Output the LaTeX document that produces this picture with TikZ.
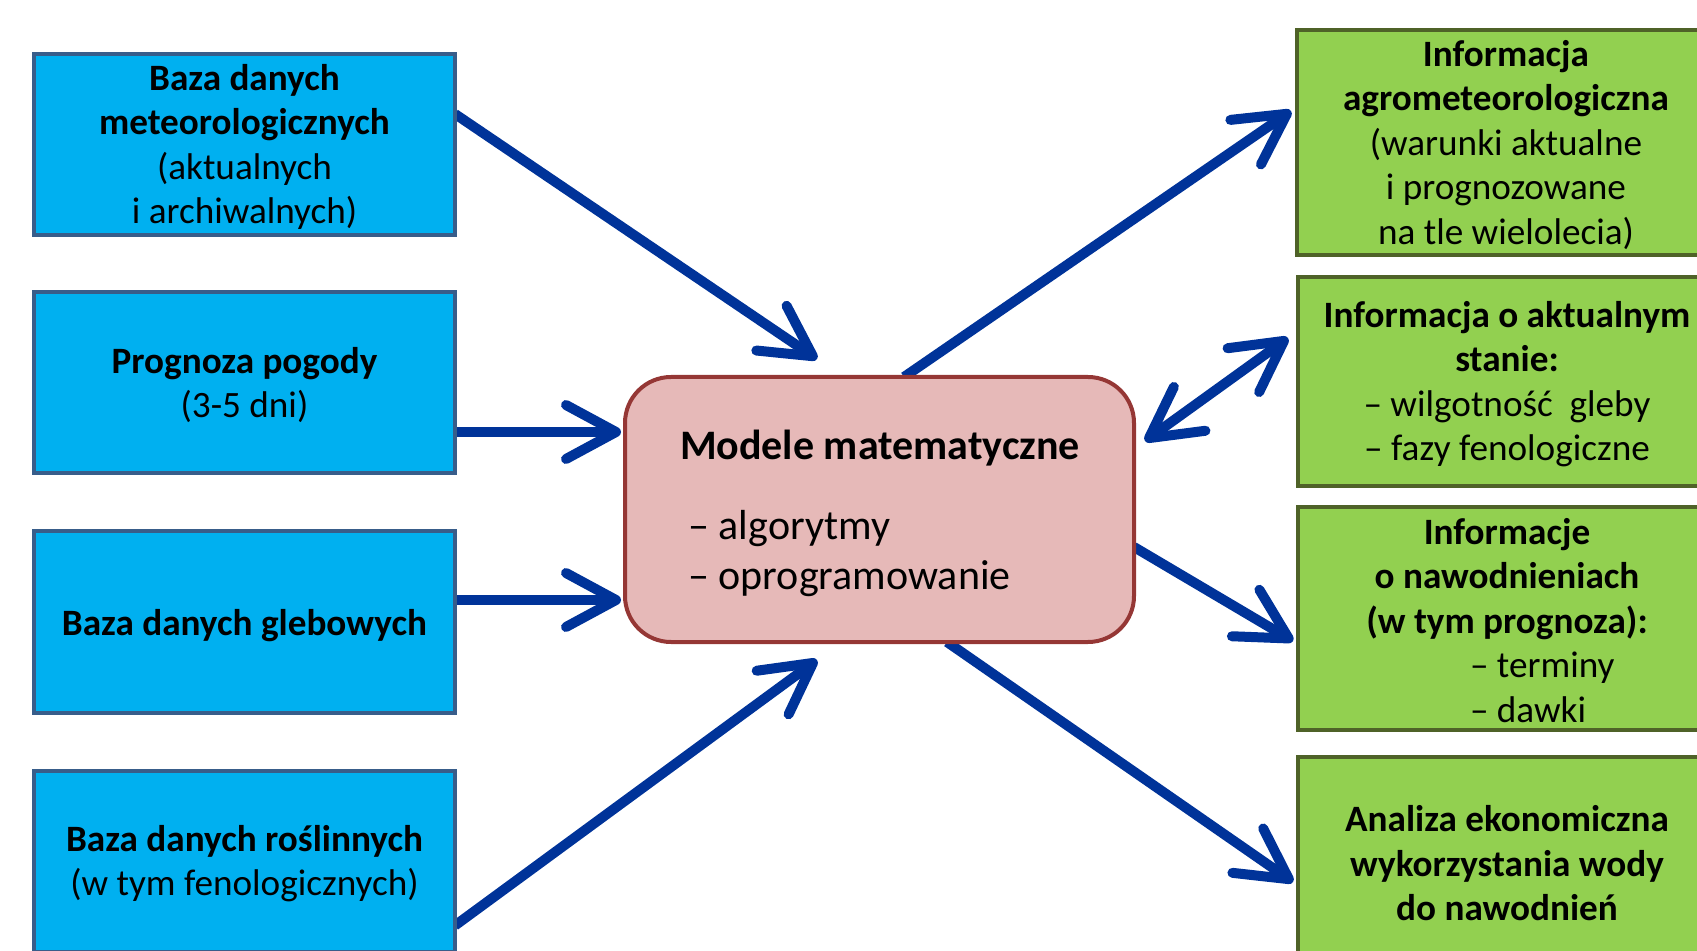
\documentclass[tikz,border=0pt]{standalone}
\usepackage{fontspec}
\setmainfont{Carlito}
\usetikzlibrary{arrows.meta,backgrounds,calc}
\definecolor{bluefill}{HTML}{00B0F0}
\definecolor{blueline}{HTML}{385D8A}
\definecolor{greenfill}{HTML}{92D050}
\definecolor{greenline}{HTML}{4F6228}
\definecolor{pinkfill}{HTML}{E6B9B8}
\definecolor{pinkline}{HTML}{953735}
\definecolor{arrowblue}{HTML}{003399}
\newcommand\dn[2][1.8pt]{\raisebox{-#1}[\height][\depth]{\begin{tabular}{@{}c@{}}#2\end{tabular}}}
\begin{document}
\begin{tikzpicture}[x=0.5pt,y=-0.5pt,
  inbox/.style={draw=blueline, fill=bluefill, line width=2pt, minimum width=210.5pt, minimum height=90.5pt,
    inner sep=0pt, outer sep=0pt, font=\fontsize{18.6pt}{22.25pt}\selectfont},
  outbox/.style={draw=greenline, fill=greenfill, line width=2.25pt, minimum width=209pt,
    inner sep=0pt, outer sep=0pt, font=\fontsize{18.6pt}{22.25pt}\selectfont},
  model/.style={draw=pinkline, fill=pinkfill, line width=2pt, rounded corners=23pt,
    minimum width=254.5pt, minimum height=132.5pt, inner sep=0pt, outer sep=0pt},
  conn/.style={draw=arrowblue, line width=5pt, -{Straight Barb[length=25pt,width=27pt,round]}},
  conn2/.style={draw=arrowblue, line width=5pt, {Straight Barb[length=25pt,width=27pt,round]}-{Straight Barb[length=25pt,width=27pt,round]}},
]
\useasboundingbox (0,0) rectangle (1697,951);
\clip (0,0) rectangle (1697,951);

% input boxes
\node[inbox] (b1) at (244.5,144.5) {\dn{\textbf{Baza danych}\\\textbf{meteorologicznych}\\(aktualnych\\i archiwalnych)}};
\node[inbox] (b2) at (244.5,383) {\dn{\textbf{Prognoza pogody}\\(3-5 dni)}};
\node[inbox] (b3) at (244.5,622) {\dn[2.4pt]{\textbf{Baza danych glebowych}}};
\node[inbox] (b4) at (244.5,861) {\dn{\textbf{Baza danych roślinnych}\\(w tym fenologicznych)}};

% model box
\node[model] (m) at (879.5,509.5) {};
\node[font=\fontsize{21pt}{25pt}\selectfont\bfseries, inner sep=0pt] (mt) at (880,448) {Modele matematyczne};
\node[font=\fontsize{21pt}{25pt}\selectfont, align=left, anchor=west, inner sep=0pt] (ml) at (688,554) {– algorytmy\\– oprogramowanie};

% output boxes
\node[outbox, minimum height=112.5pt] (g1) at (1506,142.5) {\dn[2pt]{\textbf{Informacja}\\\textbf{agrometeorologiczna}\\(warunki aktualne\\i prognozowane\\na tle wielolecia)}};
\node[outbox, minimum height=104.5pt] (g2) at (1507,381.5) {\dn{\textbf{Informacja o aktualnym}\\\textbf{stanie:}\\– wilgotność\ \ gleby\\– fazy fenologiczne}};
\node[outbox, minimum height=111.5pt] (g3) at (1507,618.5) {\dn[3pt]{\textbf{Informacje}\\\textbf{o nawodnieniach}\\\textbf{(w tym prognoza):}\\\makebox[37pt][l]{– terminy}\\\makebox[37pt][l]{– dawki}}};
\node[outbox, minimum height=105.5pt] (g4) at (1507,862.5) {\dn[2.5pt]{\textbf{Analiza ekonomiczna}\\\textbf{wykorzystania wody}\\\textbf{do nawodnień}}};

% arrow tips
\coordinate (t1) at (817,359);
\coordinate (t2) at (621,432);
\coordinate (t3) at (621,600);
\coordinate (t4) at (817,660);
\coordinate (t5) at (1291,111);
\coordinate (t6a) at (1145,441);
\coordinate (t6b) at (1288,338);
\coordinate (t7) at (1293,641);
\coordinate (t8) at (1293,882);

\begin{scope}[on background layer]
\draw[conn] ($(b1.north east)+(0,60)$) -- (t1);
\draw[conn] (b2.east |- t2) -- (t2);
\draw[conn] (b3.east |- t3) -- (t3);
\draw[conn] ($(b4.north east)+(0,155)$) -- (t4);
\draw[conn] ($(m.north west)+(279,0)$) -- (t5);
\draw[conn2] (t6a) -- (t6b);
\draw[conn] ($(m.north east)+(0,170)$) -- (t7);
\draw[conn] ($(m.south west)+(322,0)$) -- (t8);
\end{scope}
\end{tikzpicture}
\end{document}
